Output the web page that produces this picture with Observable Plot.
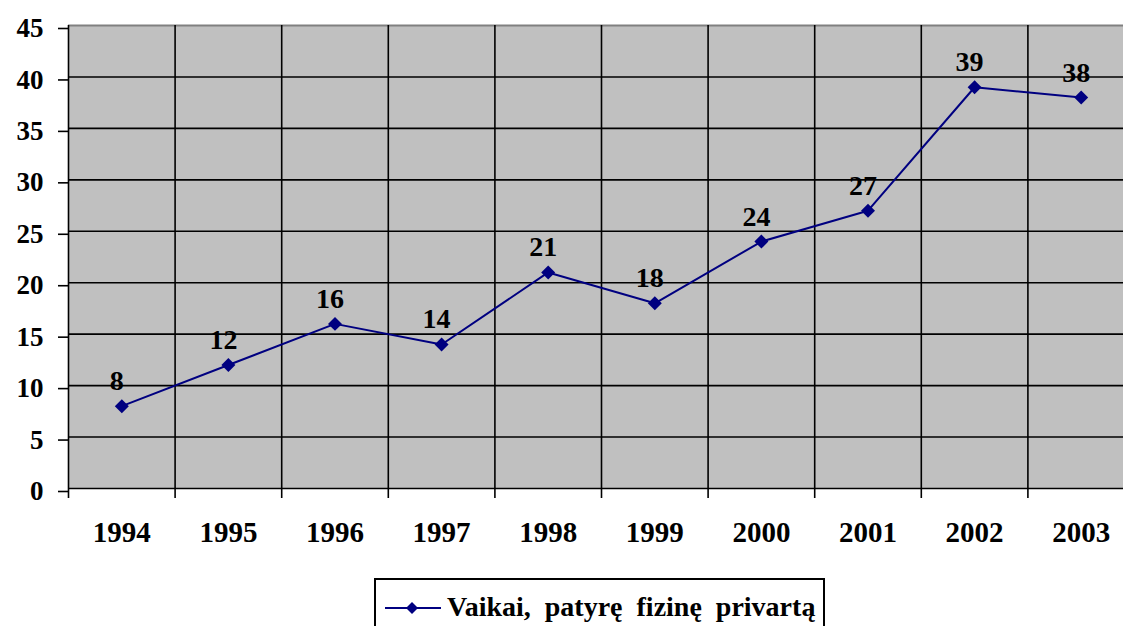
<!DOCTYPE html>
<html>
<head>
<meta charset="utf-8">
<script src="https://cdn.jsdelivr.net/npm/d3@7"></script>
<script src="https://cdn.jsdelivr.net/npm/@observablehq/plot@0.6"></script>
<style>
  html, body { margin: 0; padding: 0; background: #fff; overflow: hidden; }
  #wrap { position: relative; width: 1123px; height: 626px; }
  #legend {
    position: absolute; left: 374px; top: 578px; width: 451px; height: 60px;
    border: 2px solid #000; box-sizing: border-box; background: #fff;
    font-family: "Liberation Serif", "Times New Roman", serif; font-weight: bold;
    font-size: 28px; white-space: nowrap;
  }
  #legend svg { position: absolute; left: 9px; top: 18px; }
  #legend span { position: absolute; left: 71px; top: 11px; word-spacing: 7px; }
</style>
</head>
<body>
<div id="wrap"></div>
<script>
const years = [1994, 1995, 1996, 1997, 1998, 1999, 2000, 2001, 2002, 2003];
const values = [8, 12, 16, 14, 21, 18, 24, 27, 39, 38];
const yTicks = [0, 5, 10, 15, 20, 25, 30, 35, 40, 45];
const seriesName = "Vaikai, patyrę fizinę privartą";

const data = years.map((y, i) => ({year: y, value: values[i]}));
const boundaries = years.map(y => y - 0.5).concat([years[years.length - 1] + 0.5]);
const font = "'Liberation Serif', 'Times New Roman', serif";

const chart = Plot.plot({
  width: 1123,
  height: 570,
  marginLeft: 68,
  marginRight: 0,
  marginTop: 25,
  marginBottom: 82,
  style: {fontFamily: font, fontWeight: "bold", background: "transparent", overflow: "visible"},
  x: {type: "linear", domain: [boundaries[0], boundaries[boundaries.length - 1]], range: [68, 1134], label: null},
  y: {domain: [0, 45], label: null},
  marks: [
    Plot.frame({fill: "#c0c0c0", stroke: null}),
    Plot.ruleY(yTicks.filter(v => v > 0 && v < 45), {stroke: "#000", strokeWidth: 1.6}),
    Plot.ruleY([45], {stroke: "#808080", strokeWidth: 2}),
    Plot.ruleX(boundaries, {stroke: "#000", strokeWidth: 1.6}),
    Plot.ruleY([0], {stroke: "#000", strokeWidth: 1.6}),
    Plot.axisY({ticks: yTicks, label: null, tickSize: 10, tickPadding: 15, fontSize: 27, dy: 3, tickFormat: d => String(d), stroke: "#000", strokeWidth: 1.6, fill: "#000"}),
    Plot.axisX({ticks: boundaries, label: null, tickSize: 10, tickFormat: () => "", stroke: "#000", strokeWidth: 1.6}),
    Plot.axisX({ticks: years, label: null, tickSize: 0, tickPadding: 33, fontSize: 29, tickFormat: d => String(d), fill: "#000"}),
    Plot.line(data, {x: "year", y: "value", stroke: "#000080", strokeWidth: 2}),
    Plot.dot(data, {x: "year", y: "value", symbol: "diamond2", r: 6.3, fill: "#000080", stroke: null}),
    Plot.text(data, {x: "year", y: "value", text: d => String(d.value), dy: -16, dx: -5, textAnchor: "middle", lineAnchor: "bottom", fontSize: 28, fontWeight: "bold", fill: "#000"})
  ]
});

const wrap = document.getElementById("wrap");
wrap.appendChild(chart);

const legend = document.createElement("div");
legend.id = "legend";
legend.innerHTML = `<svg width="60" height="20"><line x1="0" y1="10" x2="56" y2="10" stroke="#000080" stroke-width="2"/><path d="M27,4 L33,10 L27,16 L21,10 Z" fill="#000080"/></svg><span></span>`;
legend.querySelector("span").textContent = seriesName;
wrap.appendChild(legend);
</script>
</body>
</html>
